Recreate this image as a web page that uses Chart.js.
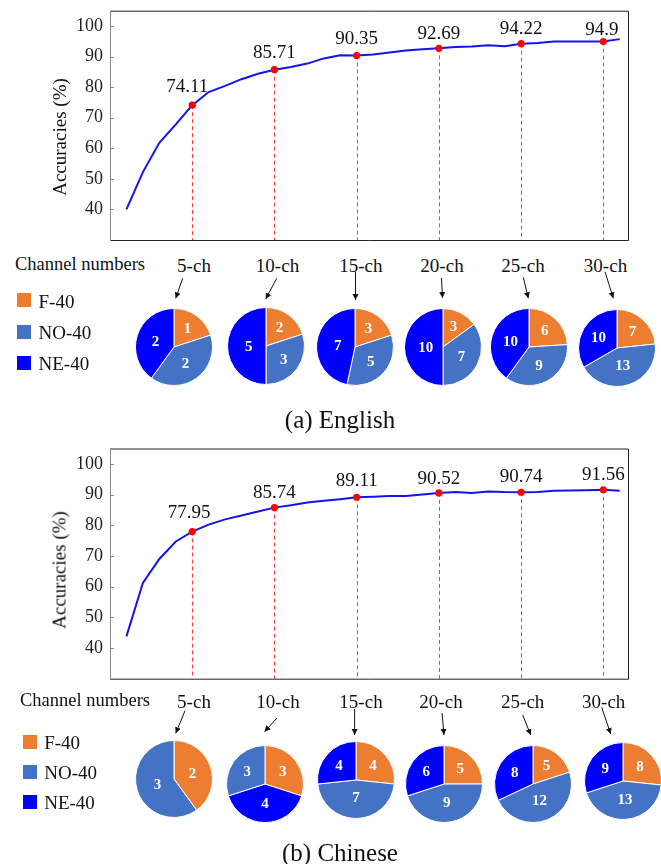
<!DOCTYPE html>
<html><head><meta charset="utf-8">
<script src="https://cdn.jsdelivr.net/npm/chart.js@4/dist/chart.umd.min.js"></script>
<style>
html,body{margin:0;padding:0;background:#fff;}
#wrap{position:relative;width:661px;height:864px;overflow:hidden;font-family:"Liberation Serif","Times New Roman",serif;color:#111;}
canvas{position:absolute;}
.t{position:absolute;white-space:nowrap;line-height:1;font-family:"Liberation Serif","Times New Roman",serif;}
.c{transform:translate(-50%,-50%);}
.l{transform:translate(0,-50%);}
.rot{transform:translate(-50%,-50%) rotate(-90deg);}
.sq{position:absolute;}
svg{position:absolute;left:0;top:0;}
</style></head><body><div id="wrap"></div>
<script>
// ---------- data ----------
const channels = [1,2,3,4,5,6,7,8,9,10,11,12,13,14,15,16,17,18,19,20,21,22,23,24,25,26,27,28,29,30,31];
const enAcc = [40.0,52.2,61.8,67.8,74.11,78.4,80.4,82.6,84.4,85.71,86.6,87.7,89.4,90.4,90.35,90.7,91.3,92.0,92.4,92.69,93.1,93.3,93.7,93.4,94.22,94.4,94.9,94.9,94.9,94.9,95.7];
const zhAcc = [43.8,61.2,69.0,74.7,77.95,80.2,81.9,83.2,84.5,85.74,86.5,87.4,88.0,88.5,89.11,89.3,89.5,89.5,90.0,90.52,90.8,90.5,91.0,90.8,90.74,90.8,91.2,91.3,91.4,91.56,91.2];
const markedChannels = [5,10,15,20,25,30];
const yTickValues = [40,50,60,70,80,90,100];
const pieNames = ['5-ch','10-ch','15-ch','20-ch','25-ch','30-ch'];
const pieCategories = ['F-40','NO-40','NE-40'];
const enF  = [1,2,3,3,6,7];
const enNO = [2,3,5,7,9,13];
const enNE = [2,5,7,10,10,10];
const zhF  = [2,3,4,5,5,8];
const zhNO = [3,3,7,9,12,13];
const zhNE = [0,4,4,6,8,9];
// slice drawing order (clockwise from top) per pie: indices into pieCategories
const enOrder = [[0,1,2],[0,1,2],[0,1,2],[0,1,2],[0,1,2],[0,1,2]];
const zhOrder = [[0,1,2],[0,2,1],[0,1,2],[0,1,2],[0,1,2],[0,1,2]];
const panelTitles = ['(a) English','(b) Chinese'];
const yTitle = 'Accuracies (%)';
const sideTitle = 'Channel numbers';

// ---------- styles / layout ----------
const pieColors = ['#ED7D31','#4472C4','#0000FF'];
const FONT = '"Liberation Serif","Times New Roman",serif';
const enLabelLift = [13.5,12,11,9.5,9.5,7];
const enLabelDx = [-5,0,0,0,0,-1.5];
const zhLabelLift = [14,9.5,11,9,10,9.3];
const zhLabelDx = [-3,0,0,0,0,0];
const wrap = document.getElementById('wrap');

function addText(txt, x, y, size, cls, extra) {
  const d = document.createElement('div');
  d.className = 't ' + cls;
  d.textContent = txt;
  d.style.left = x + 'px'; d.style.top = y + 'px';
  d.style.fontSize = size + 'px';
  if (extra) Object.assign(d.style, extra);
  wrap.appendChild(d);
}

const framePlugin = {
  id: 'frame',
  afterDraw(chart) {
    const {ctx, chartArea: a, scales: {y}} = chart;
    ctx.save();
    ctx.lineWidth = 1;
    ctx.strokeStyle = '#222';
    ctx.beginPath();
    ctx.moveTo(a.left, a.top + 0.5); ctx.lineTo(a.right + 0.5, a.top + 0.5);
    ctx.lineTo(a.right + 0.5, a.bottom + 0.5); ctx.lineTo(a.left, a.bottom + 0.5);
    ctx.stroke();
    ctx.strokeStyle = '#8a8a8a';
    ctx.beginPath();
    ctx.moveTo(a.left + 0.5, a.top); ctx.lineTo(a.left + 0.5, a.bottom + 1);
    yTickValues.forEach(v => {
      const py = Math.round(y.getPixelForValue(v)) + 0.5;
      ctx.moveTo(a.left, py); ctx.lineTo(a.left + 4, py);
    });
    ctx.stroke();
    ctx.restore();
  }
};

function makeMarkPlugin(lift, dx) {
  return {
    id: 'marks',
    beforeDatasetsDraw(chart) {
      const {ctx, chartArea: a} = chart;
      const meta = chart.getDatasetMeta(0);
      ctx.save();
      ctx.strokeStyle = '#ff3b3b';
      ctx.lineWidth = 1;
      ctx.setLineDash([4, 3]);
      meta.data.forEach(pt => {
        const px = Math.round(pt.x) + 0.5;
        ctx.beginPath(); ctx.moveTo(px, pt.y); ctx.lineTo(px, a.bottom); ctx.stroke();
      });
      ctx.restore();
    },
    afterDatasetsDraw(chart) {
      const {ctx} = chart;
      const meta = chart.getDatasetMeta(0);
      const ds = chart.data.datasets[0].data;
      ctx.save();
      ctx.fillStyle = '#111';
      ctx.font = '19px ' + FONT;
      ctx.textAlign = 'center';
      ctx.textBaseline = 'alphabetic';
      meta.data.forEach((pt, i) => {
        ctx.fillText(String(ds[i].y), pt.x + dx[i], pt.y - lift[i]);
      });
      ctx.restore();
    }
  };
}

function makeLine(acc, top, height, padTop, padBottom, titleY, lift, dx) {
  const cv = document.createElement('canvas');
  cv.width = 661; cv.height = height;
  cv.style.left = '0px'; cv.style.top = top + 'px';
  wrap.appendChild(cv);
  const mainData = channels.map((c, i) => ({x: c, y: acc[i]}));
  const marked = markedChannels.map(c => ({x: c, y: acc[channels.indexOf(c)]}));
  new Chart(cv, {
    type: 'line',
    data: {datasets: [
      {data: marked, showLine: false, pointRadius: 3.6, pointBackgroundColor: '#ff0000', pointBorderWidth: 0, order: 0},
      {data: mainData, borderColor: '#1414ee', borderWidth: 2, pointRadius: 0, tension: 0, order: 1, fill: false}
    ]},
    options: {
      responsive: false, animation: false, events: [],
      layout: {padding: {left: 0, right: 33, top: padTop, bottom: padBottom}},
      plugins: {legend: {display: false}, tooltip: {enabled: false}},
      scales: {
        x: {type: 'linear', min: 0, max: 31.5, display: false},
        y: {
          min: 30, max: 105,
          afterBuildTicks: s => { s.ticks = yTickValues.map(v => ({value: v})); },
          afterFit: s => { s.width = 110; s.paddingTop = 0; s.paddingBottom = 0; },
          grid: {display: false, drawTicks: false},
          border: {display: false},
          ticks: {padding: 7, color: '#222', font: {family: FONT, size: 18}}
        }
      }
    },
    plugins: [framePlugin, makeMarkPlugin(lift, dx)]
  });
  addText(yTitle, 59, titleY, 19, 'rot');
}

const pieLabelPlugin = {
  id: 'pieLabels',
  afterDatasetsDraw(chart) {
    const {ctx} = chart;
    const meta = chart.getDatasetMeta(0);
    const vals = chart.data.datasets[0].data;
    ctx.save();
    ctx.fillStyle = '#fff';
    ctx.font = 'bold 15px ' + FONT;
    ctx.textAlign = 'center';
    ctx.textBaseline = 'middle';
    meta.data.forEach((arc, i) => {
      if (!vals[i]) return;
      const p = arc.getProps(['x', 'y', 'startAngle', 'endAngle', 'outerRadius'], true);
      const th = p.endAngle - p.startAngle;
      const mid = (p.startAngle + p.endAngle) / 2;
      let k = 4 * Math.sin(th / 2) / (3 * th);
      k = Math.max(0.45, Math.min(0.6, k));
      const r = p.outerRadius * k;
      ctx.fillText(String(vals[i]), p.x + Math.cos(mid) * r, p.y + Math.sin(mid) * r + 1);
    });
    ctx.restore();
  }
};

function makePie(cx, cy, vals, order) {
  const cv = document.createElement('canvas');
  cv.width = 84; cv.height = 84;
  cv.style.left = (cx - 42) + 'px'; cv.style.top = (cy - 42) + 'px';
  wrap.appendChild(cv);
  new Chart(cv, {
    type: 'pie',
    data: {
      labels: order.map(i => pieCategories[i]),
      datasets: [{
        data: order.map(i => vals[i]),
        backgroundColor: order.map(i => pieColors[i]),
        borderColor: '#ffffff', borderWidth: 1
      }]
    },
    options: {
      responsive: false, animation: false, events: [], radius: 38.5,
      layout: {padding: 0},
      plugins: {legend: {display: false}, tooltip: {enabled: false}}
    },
    plugins: [pieLabelPlugin]
  });
}

function makePanel(cfg) {
  makeLine(cfg.acc, cfg.lineTop, 250, cfg.padTop, cfg.padBottom, cfg.titleY, cfg.lift, cfg.dx);
  addText(sideTitle, cfg.sideX, cfg.rowY, 18.5, 'l');
  // legend
  pieCategories.forEach((name, i) => {
    const s = document.createElement('div');
    s.className = 'sq';
    s.style.left = cfg.legX + 'px'; s.style.top = (cfg.legY[i] - 7) + 'px';
    s.style.width = '14px'; s.style.height = '14px';
    s.style.background = pieColors[i];
    wrap.appendChild(s);
    addText(name, cfg.legX + 21.5, cfg.legY[i] + 0.5, 19, 'l');
  });
  // pies, labels, arrows
  let svg = '';
  pieNames.forEach((nm, i) => {
    addText(nm, cfg.labX[i], cfg.rowY + 1, 19, 'c');
    const vals = [cfg.F[i], cfg.NO[i], cfg.NE[i]];
    makePie(cfg.pieC[i][0], cfg.pieC[i][1], vals, cfg.order[i]);
    const [x1, y1, x2, y2] = cfg.arrows[i];
    svg += `<line x1="${x1}" y1="${y1}" x2="${x2}" y2="${y2}" stroke="#111" stroke-width="1" marker-end="url(#ah)"/>`;
  });
  const s = document.createElementNS('http://www.w3.org/2000/svg', 'svg');
  s.setAttribute('width', 661); s.setAttribute('height', 864);
  s.innerHTML = `<defs><marker id="ah" markerWidth="8" markerHeight="8" refX="6" refY="3" orient="auto" markerUnits="userSpaceOnUse"><path d="M0,0 L6,3 L0,6 Z" fill="#111"/></marker></defs>` + svg;
  wrap.appendChild(s);
  addText(cfg.title, cfg.titleX, cfg.titleCY, 25, 'c');
}

makePanel({
  acc: enAcc, lineTop: 0, padTop: 10.7, padBottom: 10, titleY: 136.5,
  lift: enLabelLift, dx: enLabelDx,
  sideX: 15, rowY: 264, legX: 17, legY: [300.3, 331.7, 362.7],
  labX: [194, 277.5, 360.8, 442, 523, 605.5],
  pieC: [[173.5,347],[265.7,346],[355,346.5],[443,346.5],[528.7,346.5],[617,348]],
  arrows: [[182.7,278.3,175.7,298.3],[276.7,278.3,265.7,299],[355.5,272,355.5,300],[441.5,278,442.5,298],[523.3,277.3,528.3,298.3],[605,271.7,613.3,298.3]],
  F: enF, NO: enNO, NE: enNE, order: enOrder,
  title: panelTitles[0], titleX: 340, titleCY: 419
});
makePanel({
  acc: zhAcc, lineTop: 440, padTop: 8.5, padBottom: 11.3, titleY: 570,
  lift: zhLabelLift, dx: zhLabelDx,
  sideX: 20, rowY: 699.5, legX: 22.7, legY: [741.7, 771.7, 801.7],
  labX: [194, 278, 361, 441, 522.7, 603.7],
  pieC: [[173.5,778.7],[265,783.8],[356,779.7],[444,783.8],[532.5,783.8],[622.8,781.3]],
  arrows: [[185,710.7,175.7,733.3],[277,718,264.5,731.7],[354.6,709,354.6,735],[442,713,444,735],[522.7,715,530.7,735],[601.7,707.3,610.7,734]],
  F: zhF, NO: zhNO, NE: zhNE, order: zhOrder,
  title: panelTitles[1], titleX: 340, titleCY: 851.7
});
</script>
</body></html>
